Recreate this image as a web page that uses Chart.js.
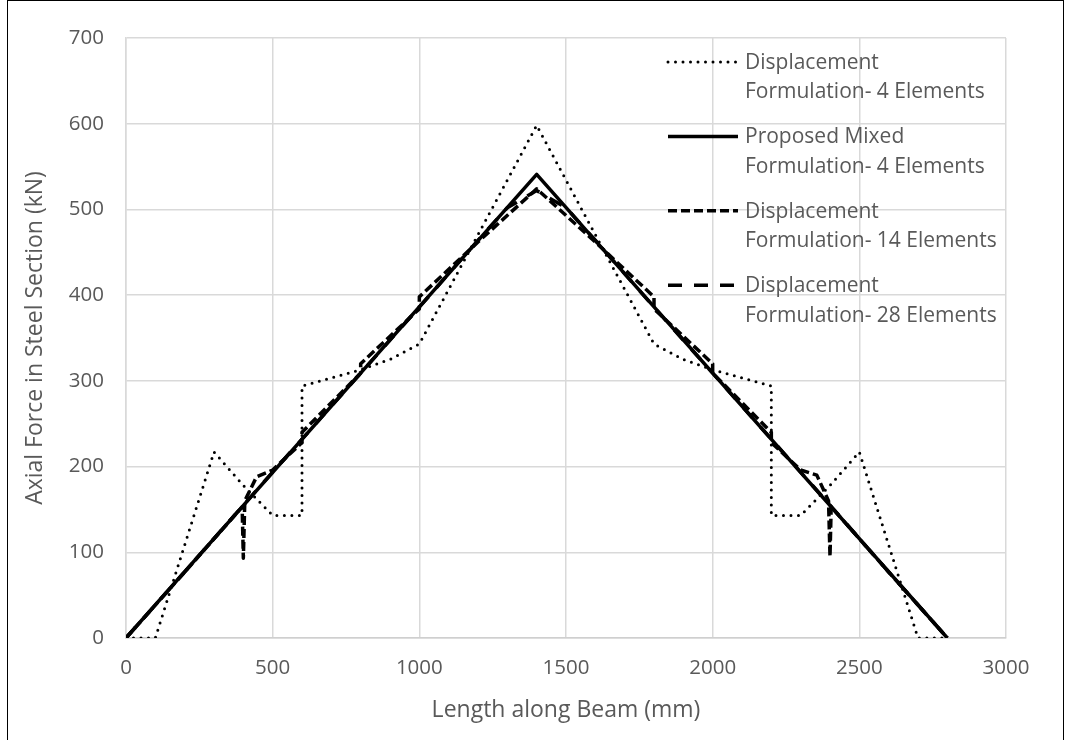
<!DOCTYPE html>
<html>
<head>
<meta charset="utf-8">
<title>Axial Force in Steel Section</title>
<script src="https://cdn.jsdelivr.net/npm/chart.js@4/dist/chart.umd.min.js"></script>
<style>
  html, body { margin: 0; padding: 0; background: #fff; }
  #wrap { position: relative; width: 1065px; height: 740px; overflow: hidden; }
  #frame { position: absolute; left: 7px; top: 0; width: 1057px; height: 760px; border: 1px solid #000; box-sizing: border-box; pointer-events: none; }
  canvas { display: block; }
</style>
</head>
<body>
<div id="wrap">
  <canvas id="chart" width="1065" height="740"></canvas>
  <div id="frame"></div>
</div>
<script>
// ===================================================
// DATOS
// ===================================================

// Displacement Formulation - 4 Elements (punteada)
const disp4X = [0, 100, 300, 400, 500, 600, 600, 800, 900, 1000, 1400, 1800, 1900, 2000, 2200, 2200, 2300, 2400, 2500, 2700, 2800];
const disp4Y = [0, 0, 217, 178, 143, 143, 294, 313, 325, 343, 598, 343, 325, 313, 294, 143, 143, 178, 217, 0, 0];

// Proposed Mixed Formulation - 4 Elements (continua)
const mixed4X = [0, 1400, 2800];
const mixed4Y = [0, 541, 0];

// Displacement Formulation - 14 Elements (guion corto)
const disp14X = [0, 200, 396, 400, 405, 445, 500, 600, 600, 800, 800, 1000, 1000, 1200, 1400, 1600, 1800, 1800, 2000, 2000, 2200, 2200, 2300, 2355, 2395, 2400, 2404, 2600, 2800];
const disp14Y = [0, 77, 153, 93, 160, 188, 196, 228, 240, 309, 320, 384, 398, 462, 524, 462, 398, 384, 320, 309, 240, 228, 196, 190, 160, 95, 153, 77, 0];

// Displacement Formulation - 28 Elements (guion largo)
const disp28X = [0, 200, 400, 600, 800, 1000, 1200, 1300, 1400, 1500, 1600, 1800, 2000, 2200, 2400, 2600, 2800];
const disp28Y = [0, 77, 155, 232, 309, 386, 464, 502, 522, 502, 464, 386, 309, 232, 155, 77, 0];

const seriesNames = [
    ['Displacement', 'Formulation- 4 Elements'],
    ['Proposed Mixed', 'Formulation- 4 Elements'],
    ['Displacement', 'Formulation- 14 Elements'],
    ['Displacement', 'Formulation- 28 Elements']
];

const xTitle = 'Length along Beam (mm)';
const yTitle = 'Axial Force in Steel Section (kN)';

// ===================================================
// ESTILOS
// ===================================================

const FONT = "'Open Sans', sans-serif";
const TEXT_COLOR = '#595959';
const GRID_COLOR = '#d9d9d9';

const lineStyles = [
    { width: 3, dash: [0, 7.5], cap: 'round' },
    { width: 3.5, dash: [], cap: 'butt' },
    { width: 3.5, dash: [9, 4], cap: 'butt' },
    { width: 3.5, dash: [14, 12], cap: 'butt' }
];

function toPoints(xs, ys) {
    return xs.map((x, i) => ({ x: x, y: ys[i] }));
}

// ===================================================
// LEYENDA (estilo Excel, dos lineas por serie)
// ===================================================

const excelLegend = {
    id: 'excelLegend',
    afterDraw(chart) {
        const ctx = chart.ctx;
        ctx.save();
        seriesNames.forEach((lines, i) => {
            const st = lineStyles[i];
            const y = 62 + i * 74.4;
            ctx.beginPath();
            ctx.strokeStyle = '#000';
            ctx.lineWidth = st.width;
            ctx.lineCap = st.cap;
            ctx.setLineDash(st.dash);
            ctx.moveTo(668, y);
            ctx.lineTo(738, y);
            ctx.stroke();
            ctx.setLineDash([]);
            ctx.fillStyle = TEXT_COLOR;
            ctx.font = '21px ' + FONT;
            ctx.textBaseline = 'middle';
            ctx.textAlign = 'left';
            lines.forEach((t, j) => ctx.fillText(t, 745, y + 1 + j * 29.5));
        });
        ctx.restore();
    }
};

// ===================================================
// GRAFICO
// ===================================================

const datasets = [
    toPoints(disp4X, disp4Y),
    toPoints(mixed4X, mixed4Y),
    toPoints(disp14X, disp14Y),
    toPoints(disp28X, disp28Y)
].map((data, i) => ({
    label: seriesNames[i].join(' '),
    data: data,
    borderColor: '#000',
    backgroundColor: '#000',
    borderWidth: lineStyles[i].width,
    borderDash: lineStyles[i].dash,
    borderCapStyle: lineStyles[i].cap,
    borderJoinStyle: 'round',
    pointRadius: 0,
    tension: 0,
    fill: false,
    order: 4 - i
}));

new Chart(document.getElementById('chart'), {
    type: 'line',
    data: { datasets: datasets },
    options: {
        responsive: false,
        animation: false,
        layout: { padding: { left: 0, right: 59, top: 38, bottom: 0 } },
        plugins: { legend: { display: false }, tooltip: { enabled: false } },
        scales: {
            x: {
                type: 'linear',
                min: 0,
                max: 3000,
                ticks: { stepSize: 500, color: TEXT_COLOR, font: { family: FONT, size: 20.5 }, padding: 18, callback: v => String(v) },
                grid: { color: GRID_COLOR, lineWidth: 1.5, drawTicks: false },
                border: { color: '#cfcfcf', width: 1.5 },
                title: { display: true, text: xTitle, color: TEXT_COLOR, font: { family: FONT, size: 23 }, padding: { top: 0, bottom: 16 } },
                afterFit(scale) { scale.height = 102; }
            },
            y: {
                min: 0,
                max: 700,
                ticks: { stepSize: 100, color: TEXT_COLOR, font: { family: FONT, size: 20.5 }, padding: 22, callback: v => String(v) },
                grid: { color: GRID_COLOR, lineWidth: 1.5, drawTicks: false },
                border: { color: GRID_COLOR, width: 1.5 },
                title: { display: true, text: yTitle, color: TEXT_COLOR, font: { family: FONT, size: 23 }, padding: { top: 22, bottom: 0 } },
                afterFit(scale) { scale.width = 126; }
            }
        }
    },
    plugins: [excelLegend]
});
</script>
</body>
</html>
